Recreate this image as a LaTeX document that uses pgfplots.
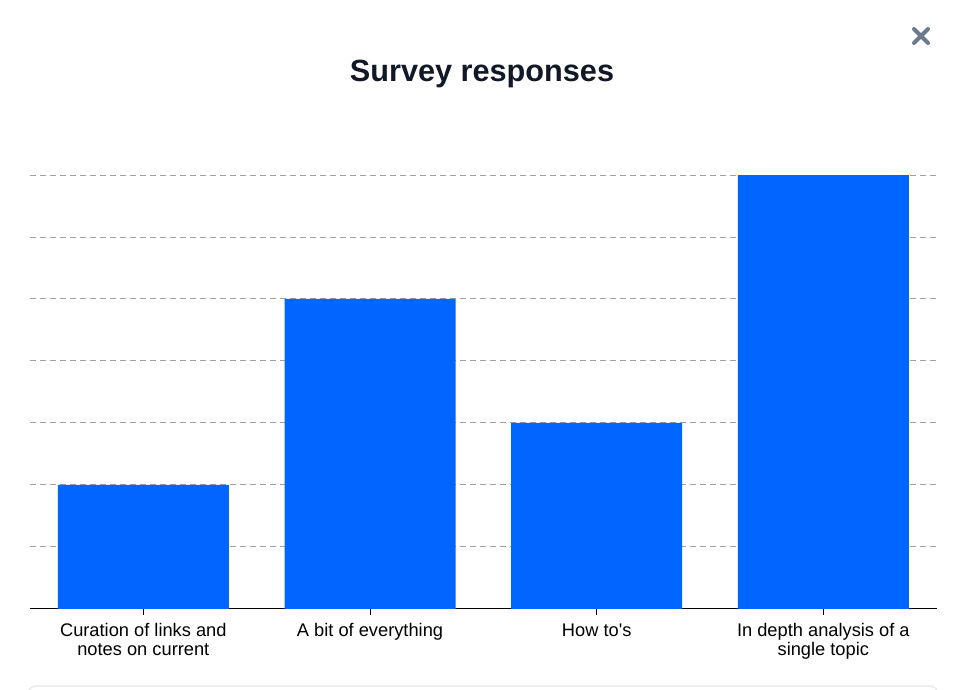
\documentclass[border=0pt]{standalone}
\usepackage{fontspec}
\setmainfont{Liberation Sans}
\usepackage{pgfplots}
\pgfplotsset{compat=1.18}
\definecolor{barblue}{RGB}{0,102,255}
\definecolor{titlecol}{RGB}{17,24,39}
\definecolor{closecol}{RGB}{107,122,143}
\definecolor{gridcol}{RGB}{160,160,160}
\definecolor{framecol}{RGB}{229,231,235}

\begin{document}
\begin{tikzpicture}[x=0.75bp,y=0.75bp]
% canvas 960x690 px, origin bottom left
\useasboundingbox (0,0) rectangle (960,690);
\fill[white] (0,0) rectangle (960,690);

\begin{axis}[
    at={(22.5bp,60.75bp)}, anchor=south west,
    width=680bp, height=325.5bp,
    scale only axis,
    ybar, bar width=128.25bp,
    xmin=-0.5, xmax=3.5,
    ymin=0, ymax=7,
    xtick=data,
    xticklabels={Curation of links and\\notes on current, A bit of everything, How to\textquotesingle s, In depth analysis of a\\single topic},
    xticklabel style={align=center, font=\fontsize{13.7bp}{14.25bp}\selectfont, text=black, yshift=-3bp},
    ytick={1,...,7}, yticklabels={},
    axis x line*=bottom, axis y line*=left,
    y axis line style={draw=none},
    ytick style={draw=none},
    x axis line style={black, line width=0.75bp},
    xtick style={black, line width=0.75bp},
    tick align=outside, major tick length=4.5bp,
    ymajorgrids,
    major grid style={gridcol, line width=0.75bp, dash pattern=on 4.5bp off 3bp},
    clip=false,
]
\addplot[draw=none, fill=barblue] coordinates {(0,2) (1,5) (2,3) (3,7)};
\end{axis}

\node[font=\fontsize{23bp}{27bp}\selectfont\bfseries, text=titlecol] at (482,616) {Survey responses};
\draw[closecol, line width=3bp, line cap=round] (914,647) -- (928,661) (914,661) -- (928,647);
\draw[framecol, line width=1bp, rounded corners=6bp] (28,-10) -- (28,4) -- (938,4) -- (938,-10);
\end{tikzpicture}
\end{document}
